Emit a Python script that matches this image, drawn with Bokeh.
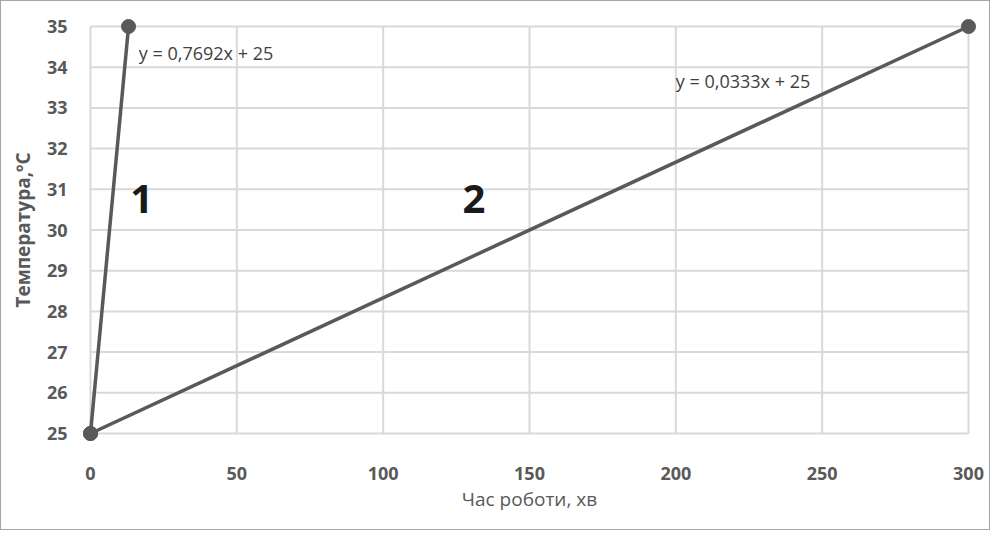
from bokeh.plotting import figure
from bokeh.models import Range1d, FixedTicker
from bokeh.core.properties import value
from bokeh.embed import file_html
from bokeh.resources import INLINE

# data
line1_x = [0, 13]
line1_y = [25, 35]
line2_x = [0, 300]
line2_y = [25, 35]
eq_text = ["y = 0,7692x + 25", "y = 0,0333x + 25"]
eq_x = [16.5, 200]
eq_y = [34.35, 33.65]
num_text = ["1", "2"]
num_x = [17.5, 131]
num_y = [30.77, 30.77]
x_ticks = [0, 50, 100, 150, 200, 250, 300]
y_ticks = list(range(25, 36))

FONT = "Open Sans"
DARK = "#595959"
GRID = "#d9d9d9"

# layout (pixels)
W, H = 990, 530
PAD = 9
left, right, top, bottom = 89 - PAD, 23 - PAD, 25 - PAD, 98 - PAD
inner_w = W - 89 - 23
inner_h = H - 25 - 98
xmin, xmax, ymin, ymax = x_ticks[0], x_ticks[-1], y_ticks[0], y_ticks[-1]
xp = PAD * (xmax - xmin) / inner_w
yp = PAD * (ymax - ymin) / inner_h

p = figure(width=W, height=H, output_backend="svg", toolbar_location=None,
           x_range=Range1d(xmin - xp, xmax + xp), y_range=Range1d(ymin - yp, ymax + yp),
           min_border_left=left, min_border_right=right,
           min_border_top=top, min_border_bottom=bottom)
p.styles = {"border": "1px solid #a6a6a6", "box-sizing": "border-box"}
p.outline_line_color = None
p.background_fill_color = "white"
p.border_fill_color = "white"
p.xgrid.grid_line_color = None
p.ygrid.grid_line_color = None

for ax in (p.xaxis[0], p.yaxis[0]):
    ax.axis_line_color = None
    ax.major_tick_line_color = None
    ax.minor_tick_line_color = None
    ax.major_label_text_font = FONT
    ax.major_label_text_font_size = "18px"
    ax.major_label_text_font_style = "bold"
    ax.major_label_text_color = DARK
    ax.axis_label_text_font = FONT
    ax.axis_label_text_color = DARK

p.xaxis.ticker = FixedTicker(ticks=x_ticks)
p.yaxis.ticker = FixedTicker(ticks=y_ticks)
p.xaxis.major_label_standoff = 18
p.yaxis.major_label_standoff = 8
p.xaxis.axis_label = "Час роботи, хв"
p.xaxis.axis_label_text_font_size = "19px"
p.xaxis.axis_label_text_font_style = "normal"
p.xaxis.axis_label_standoff = 3
p.yaxis.axis_label = "Температура,ºС"
p.yaxis.axis_label_text_font_size = "19px"
p.yaxis.axis_label_text_font_style = "bold"
p.yaxis.axis_label_standoff = 8

# grid lines drawn only within the data extent
p.segment(x0=x_ticks, y0=[ymin] * len(x_ticks), x1=x_ticks, y1=[ymax] * len(x_ticks),
          line_color=GRID, line_width=2)
p.segment(x0=[xmin] * len(y_ticks), y0=y_ticks, x1=[xmax] * len(y_ticks), y1=y_ticks,
          line_color=GRID, line_width=2)

for xs, ys in ((line1_x, line1_y), (line2_x, line2_y)):
    p.line(xs, ys, line_color=DARK, line_width=3.5)
    p.scatter(xs, ys, size=14, fill_color=DARK, line_color=DARK)

p.text(eq_x, eq_y, text=eq_text, text_font=value(FONT), text_font_size="18px",
       text_color="#404040", text_baseline="middle", text_align="left")
p.text(num_x, num_y, text=num_text, text_font=value(FONT), text_font_size="40px",
       text_font_style="bold", text_color="#1a1a1a", text_baseline="middle",
       text_align="center")

open("out.html", "w").write(file_html(p, INLINE))
